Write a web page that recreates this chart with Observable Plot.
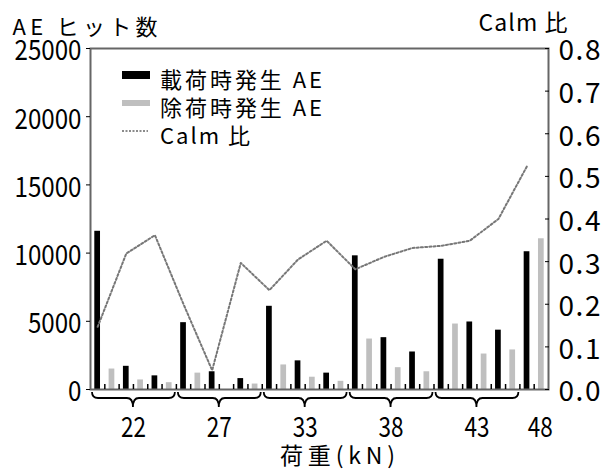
<!DOCTYPE html>
<html><head><meta charset="utf-8">
<script src="https://cdn.jsdelivr.net/npm/d3@7"></script>
<script src="https://cdn.jsdelivr.net/npm/@observablehq/plot@0.6"></script>
<style>html,body{margin:0;padding:0;background:#fff}</style>
</head><body><div id="chart"></div>
<script>
// ---- data ----
const loadLevels     = ["22","27","33","38","43","48"];
const cyclesPerLevel = [3,3,3,3,3,1];
const loadingAE   = [11600,1700,1000, 4900,1300,800, 6100,2100,1200, 9800,3800,2750, 9550,4950,4350, 10100];
const unloadingAE = [1500,700,500, 1200,0,400, 1800,900,600, 3700,1600,1300, 4800,2600,2900, 11050];
const calmRatio   = [0.147,0.319,0.362, 0.20,0.045,0.297, 0.233,0.305,0.349, 0.282,0.311,0.332, 0.337,0.349,0.40, 0.524];
const leftTicks   = [0,5000,10000,15000,20000,25000];
const rightTicks  = [0,0.1,0.2,0.3,0.4,0.5,0.6,0.7,0.8];
const seriesNames = ["載荷時発生 AE","除荷時発生 AE","Calm 比"];
const yTitle = "AE ヒット数", y2Title = "Calm 比", xTitle = "荷重(kN)";

const Y_MAX = 25000, R_MAX = 0.8, K = Y_MAX / R_MAX;
const FONT = "'Noto Sans CJK JP','Noto Sans',sans-serif";

// build table: each cycle = loading slot + unloading slot
const cycles = [];
let slot = 0;
loadLevels.forEach((lv, g) => {
  for (let c = 0; c < cyclesPerLevel[g]; c++) {
    const i = cycles.length;
    cycles.push({level: lv, group: g, slot, loading: loadingAE[i], unloading: unloadingAE[i], calm: calmRatio[i]});
    slot += 2;
  }
});
const nSlots = slot;
const groups = loadLevels.map((lv, g) => {
  const cs = cycles.filter(d => d.group === g);
  return {level: lv, start: cs[0].slot, end: cs[cs.length - 1].slot + 2, n: cs.length};
});

function braces(index, scales, values, dims) {
  const g = d3.create("svg:g").attr("fill", "none").attr("stroke", "black").attr("stroke-width", 1.8);
  const y0 = dims.height - dims.marginBottom;
  groups.filter(d => d.n > 1).forEach(d => {
    const x0 = scales.x(d.start) + 2, x1 = scales.x(d.end) - 1, xc = scales.x((d.start + d.end) / 2);
    const ty = y0 + 3, my = y0 + 9, tip = y0 + 18, r = 6;
    const p = d3.path();
    p.moveTo(x0, ty); p.quadraticCurveTo(x0, my, x0 + r, my); p.lineTo(xc - r, my);
    p.quadraticCurveTo(xc, my, xc, tip); p.quadraticCurveTo(xc, my, xc + r, my);
    p.lineTo(x1 - r, my); p.quadraticCurveTo(x1, my, x1, ty);
    g.append("path").attr("d", p.toString());
  });
  return g.node();
}

function legend(index, scales, values, dims) {
  const g = d3.create("svg:g");
  const x0 = dims.marginLeft + 32, tx = dims.marginLeft + 70, t0 = dims.marginTop + 32, pitch = 28;
  const styles = [{fill: "black"}, {fill: "#bfbfbf"}, {line: true}];
  seriesNames.forEach((name, i) => {
    const cy = t0 + i * pitch;
    if (styles[i].line) {
      g.append("line").attr("x1", x0).attr("x2", x0 + 26).attr("y1", cy - 5).attr("y2", cy - 5)
        .attr("stroke", "#666").attr("stroke-width", 1.5).attr("stroke-dasharray", "2,1.5");
    } else {
      g.append("rect").attr("x", x0).attr("y", cy - 8 - (i ? 0 : 1)).attr("width", 28).attr("height", i ? 6 : 8).attr("fill", styles[i].fill);
    }
    g.append("text").attr("x", tx).attr("y", cy).attr("dy", "0.36em").attr("font-size", 22)
      .attr("font-family", FONT).attr("fill", "black").attr("text-anchor", "start")
      .attr("textLength", i < 2 ? 162 : 90).attr("lengthAdjust", "spacing").text(name);
  });
  return g.node();
}

const rightTickValues = rightTicks.map(v => v * K);
const chart = Plot.plot({
  width: 605, height: 470,
  marginLeft: 90, marginRight: 57, marginTop: 48, marginBottom: 81,
  style: {fontFamily: FONT, background: "white", color: "black"},
  x: {type: "linear", domain: [0, nSlots]},
  y: {domain: [0, Y_MAX]},
  marks: [
    Plot.rect(cycles, {x1: d => d.slot, x2: d => d.slot + 1, y1: 0, y2: "loading", fill: "black", insetLeft: 4.3, insetRight: 4.3}),
    Plot.rect(cycles, {x1: d => d.slot + 1, x2: d => d.slot + 2, y1: 0, y2: "unloading", fill: "#bfbfbf", insetLeft: 4.3, insetRight: 4.3}),
    Plot.line(cycles, {x: d => d.slot + 0.5, y: d => d.calm * K, stroke: "#777", strokeWidth: 2, strokeDasharray: "2,2.2"}),
    Plot.frame({stroke: "#666", strokeWidth: 2}),
    Plot.axisX({ticks: d3.range(1, nSlots), tickSize: -5, tickFormat: () => "", label: null, strokeWidth: 1.5}),
    Plot.axisY({anchor: "left", ticks: leftTicks, tickSize: 4, tickFormat: () => "", label: null}),
    Plot.axisY({anchor: "left", ticks: leftTicks, tickSize: 0, tickPadding: 9, dy: 3, fontSize: 28, label: null, tickFormat: d => String(d)}),
    Plot.axisY({anchor: "right", ticks: rightTickValues, tickSize: -4, tickFormat: () => "", label: null}),
    Plot.axisY({anchor: "right", ticks: rightTickValues, tickSize: 0, tickPadding: 10, dy: 3, fontSize: 28, label: null, tickFormat: v => (v / K).toFixed(1)}),
    braces,
    Plot.text(groups.filter(d => d.n > 1), {x: d => (d.start + d.end) / 2, text: "level", frameAnchor: "bottom", lineAnchor: "middle", dy: 39, fontSize: 28}),
    Plot.text(groups.filter(d => d.n === 1), {x: d => (d.start + d.end) / 2, text: "level", frameAnchor: "bottom", lineAnchor: "middle", dy: 39, dx: 6, fontSize: 28}),
    Plot.text([yTitle], {text: d => d, frameAnchor: "top-left", lineAnchor: "middle", textAnchor: "start", dx: -78, dy: -21, fontSize: 22}),
    Plot.text([y2Title], {text: d => d, frameAnchor: "top-right", lineAnchor: "middle", textAnchor: "end", dx: 19, dy: -25, fontSize: 23}),
    Plot.text([xTitle], {text: d => d, frameAnchor: "bottom", lineAnchor: "middle", dx: 18, dy: 67, fontSize: 23}),
    legend
  ]
});
document.getElementById("chart").appendChild(chart);

// text width tuning to mimic the narrow gothic glyphs of the reference
const widths = {[yTitle]: [145, "spacing"], [y2Title]: [89, "spacing"], [xTitle]: [115, "spacing"]};
d3.select(chart).selectAll("text").each(function () {
  const t = this.textContent;
  if (this.getAttribute("textLength")) return;
  if (widths[t]) { this.setAttribute("textLength", widths[t][0]); this.setAttribute("lengthAdjust", widths[t][1]); }
  else if (loadLevels.includes(t)) { this.setAttribute("textLength", 25); this.setAttribute("lengthAdjust", "spacingAndGlyphs"); }
  else if (/^\d+\.\d$/.test(t)) { this.setAttribute("textLength", 42); this.setAttribute("lengthAdjust", "spacing"); }
  else if (/^\d+$/.test(t)) { this.setAttribute("textLength", 13.4 * t.length); this.setAttribute("lengthAdjust", "spacingAndGlyphs"); }
});
</script>
</body></html>
